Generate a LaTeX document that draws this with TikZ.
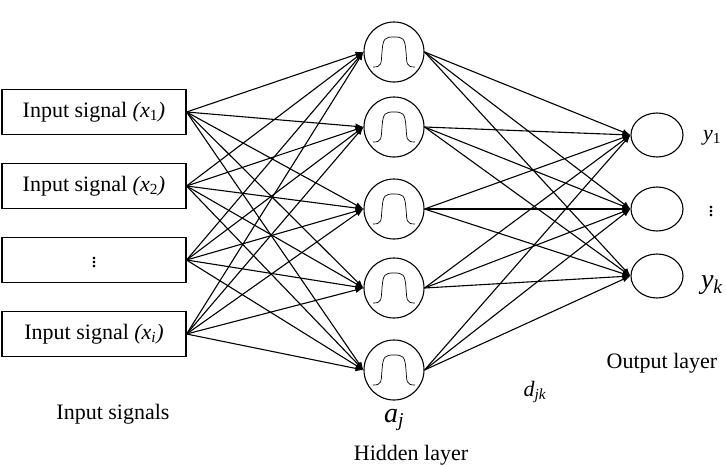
\documentclass[tikz,border=0pt]{standalone}
\usepackage{fontspec}
\setmainfont{Liberation Serif}
\usetikzlibrary{arrows.meta,calc,shapes.geometric}
\begin{document}
\begin{tikzpicture}[x=1pt,y=-1pt,
  inbox/.style={draw,line width=1.1pt,minimum width=184pt,minimum height=45pt,inner sep=0pt,font=\fontsize{22}{22}\selectfont},
  hid/.style={draw,line width=1.1pt,circle,minimum size=60pt,inner sep=0pt},
  outn/.style={draw,line width=1.1pt,ellipse,minimum width=52pt,minimum height=44pt,inner sep=0pt},
  conn/.style={line width=1.1pt,-{Latex[length=8pt,width=6pt]}},
  lbl/.style={font=\fontsize{22}{22}\selectfont}]
\useasboundingbox (0,0) rectangle (726,466);
\node[inbox] (i1) at (94,112) {Input signal \textit{(x}\textsubscript{1}\textit{)}};
\node[inbox] (i2) at (94,186) {Input signal \textit{(x}\textsubscript{2}\textit{)}};
\node[inbox] (i3) at (94,260) {$\vdots$};
\node[inbox] (i4) at (94,334) {Input signal \textit{(x}\textsubscript{\textit{i}}\textit{)}};
\foreach \k/\y in {1/52,2/127,3/209,4/288,5/370}{
  \node[hid] (h\k) at (394,\y) {};
  \draw[line width=0.7pt] ($(h\k)+(-21,15)$) .. controls ($(h\k)+(-12,15)$) and ($(h\k)+(-13,12)$) .. ($(h\k)+(-12,0)$) .. controls ($(h\k)+(-11,-14)$) and ($(h\k)+(-9,-15)$) .. ($(h\k)+(0,-15)$) .. controls ($(h\k)+(9,-15)$) and ($(h\k)+(11,-14)$) .. ($(h\k)+(12,0)$) .. controls ($(h\k)+(13,12)$) and ($(h\k)+(12,15)$) .. ($(h\k)+(21,15)$);
}
\node[outn] (o1) at (657,135) {};
\node[outn] (o2) at (657,209) {};
\node[outn] (o3) at (657,276) {};
\foreach \a in {1,...,4}{\foreach \b in {1,...,5}{\draw[conn] (i\a.east) -- (h\b.west);}}
\foreach \a in {1,...,5}{\foreach \b in {1,...,3}{\draw[conn] (h\a.east) -- (o\b.west);}}
\node[lbl] (y1) at (712,138) {\textit{y}\textsubscript{1}};
\node[lbl] (yd) at (711,209) {$\vdots$};
\node[font=\fontsize{28}{28}\selectfont] (yk) at (712,285) {\textit{y}\textsubscript{\textit{k}}};
\node[lbl] (ol) at (662,363) {Output layer};
\node[lbl] (djk) at (535,392) {\textit{d}\textsubscript{\textit{jk}}};
\node[font=\fontsize{28}{28}\selectfont] (aj) at (394,420) {\textit{a}\textsubscript{\textit{j}}};
\node[lbl] (hl) at (411,455) {Hidden layer};
\node[lbl] (is) at (113,414) {Input signals};
\end{tikzpicture}
\end{document}
